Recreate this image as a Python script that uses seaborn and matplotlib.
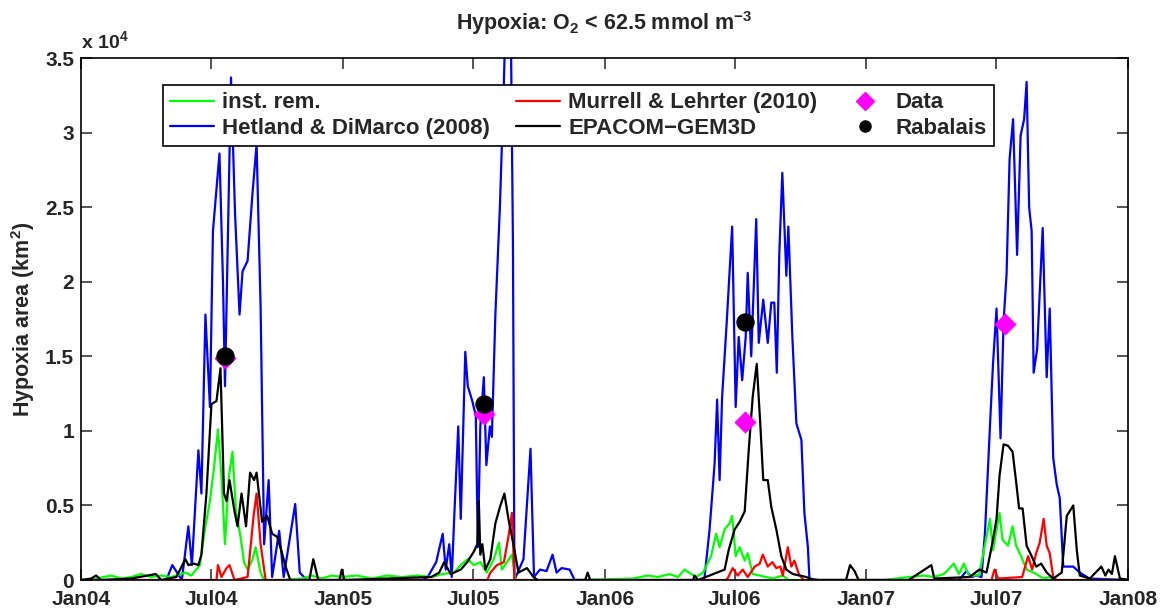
import numpy as np
import pandas as pd
import matplotlib
matplotlib.use('Agg')
import matplotlib.pyplot as plt
import matplotlib.dates as mdates
from matplotlib.ticker import FuncFormatter
from matplotlib.lines import Line2D
import seaborn as sns

START = pd.Timestamp('2004-01-01')

# ---- data: time in weeks since 2004-01-01, area in 10^3 km^2 ----
green_wk = [0, 3, 6, 8, 10, 12, 14, 16, 18, 20.8, 22, 23.7, 24.7, 25.7, 26.5, 27.3, 28, 28.7, 29.5, 30.2,
            30.9, 31.8, 32.5, 33.2, 34.2, 34.8, 35.8, 36.5, 40, 44, 46, 48, 50, 52, 55, 58, 61, 64, 67, 70,
            72, 74.4, 75.7, 77.1, 78.3, 79.6, 80.9, 82.3, 83.3, 83.9, 84.9, 85.9, 86.6, 100, 110, 113, 115,
            117.3, 119, 120.3, 122.6, 124, 125.6, 126.6, 127.3, 128.3, 129.3, 129.8, 130.5, 131.3, 132.3,
            132.9, 133.9, 135.3, 137.9, 139.9, 141, 160, 165, 168, 170, 172, 174, 175, 176, 177, 179, 181.2,
            181.8, 183.1, 183.7, 184.8, 185.7, 186.4, 187.4, 188.5, 189.9, 191.9, 193.1, 194, 209]
green_val = [0, 0.1, 0.3, 0.1, 0.2, 0.4, 0.2, 0.3, 0.2, 0.5, 0.3, 1.0, 3.4, 5.3, 7.5, 10.1, 7.0, 2.4, 7.0, 8.6,
             4.6, 2.9, 1.2, 0.7, 1.4, 2.2, 0.5, 0, 0, 0.1, 0.3, 0.1, 0.3, 0.2, 0.3, 0.1, 0.3, 0.2, 0.3, 0.2,
             0.4, 0.5, 1.0, 1.4, 1.0, 1.2, 0.5, 1.4, 2.5, 0.7, 1.2, 1.7, 0, 0, 0.1, 0.3, 0.2,
             0.4, 0.2, 0.7, 0.2, 0.5, 1.6, 3.1, 2.2, 3.4, 3.8, 4.3, 1.6, 2.2, 1.3,
             1.8, 0.4, 0.3, 0.1, 0.3, 0, 0, 0.2, 0.3, 0.2, 0.4, 1.1, 0.4, 1.1, 0.3, 0.3, 4.1,
             2.0, 4.5, 2.7, 2.3, 3.6, 2.3, 1.6, 0.7, 0.5, 0.1, 0.2, 0, 0]

blue_wk = [0, 17, 18.2, 20.1, 21.4, 22.1, 23.4, 24, 24.8, 25.7, 26.3, 27.6, 28.3, 28.7, 29.9, 30.7, 31.6,
           32.2, 33.2, 34.2, 35, 35.8, 36.5, 37.4, 38.1, 39.5, 40.4, 42.7, 43.6, 45, 68, 69.1, 70.8, 72.1,
           72.7, 73.4, 73.9, 74.5, 75.2, 75.7, 76.6, 77.1, 78, 78.7, 79.1, 79.6, 80.3, 80.8, 81.5, 81.9,
           82.6, 83.5, 84.3, 84.8, 85.6, 86.1, 86.4, 88.2, 89.6, 90.3, 91.5, 92.8, 94, 94.8, 95.8, 97.4,
           98.4, 124, 124.3, 125.3, 126.3, 126.8, 127.3, 127.8, 128.7, 129.8, 130.5, 131.1, 131.8, 132.5,
           132.9, 133.6, 134.6, 135.1, 136, 136.9, 137.6, 138.2, 138.7, 139.2, 139.8, 140.6, 141, 141.8,
           142.6, 143.6, 144.2, 144.9, 145.2, 147, 175, 176.5, 177.5, 178.5, 179.5, 180.2, 181.3, 181.8,
           182.5, 183.3, 183.9, 184.5, 185.1, 185.8, 186.6, 187.3, 188, 188.5, 189, 189.5, 189.9, 190.6,
           191.7, 192.5, 193.1, 193.8, 194.5, 195.1, 195.8, 197.8, 199.1, 201, 209]
blue_val = [0, 0, 1.0, 0.0, 3.6, 1.0, 8.7, 5.8, 17.8, 11.6, 23.4, 28.6, 20.0, 13.0, 33.7, 24.6, 17.8,
            20.7, 21.4, 26.0, 29.2, 18.3, 2.4, 6.7, 0.2, 3.3, 0.2, 5.1, 0.5, 0, 0, 0.2, 1.2, 3.1,
            0.7, 2.4, 0.2, 5.0, 10.3, 4.1, 15.3, 13.0, 12.0, 11.0, 2.2, 10.3, 13.6, 7.7, 10.3, 9.6,
            17.8, 25.0, 33.4, 40.0, 40.0, 22.6, 0, 1.4, 8.8, 0.2, 0.7, 0.6, 1.7, 0.5, 0.8, 0.7,
            0, 0, 0.2, 3.4, 7.8, 12.1, 6.7, 12.3, 17.2, 23.7, 11.6, 16.3, 13.4, 16.3,
            20.6, 15.0, 24.2, 15.9, 18.8, 15.9, 18.6, 18.6, 13.9, 21.9, 27.3, 20.4, 23.7, 16.3,
            10.5, 9.4, 4.5, 2.2, 0.1, 0, 0, 0.6, 0.2, 0.3, 0.2, 3.2, 11.1, 14.5,
            18.2, 9.5, 17.3, 20.5, 28.2, 30.9, 21.8, 29.8, 30.9, 33.4, 25.0, 23.4, 13.9, 15.5,
            23.6, 13.6, 18.2, 8.2, 6.4, 5.5, 0.9, 0.9, 0.5, 0.1, 0]

red_wk = [0, 27, 27.3, 28, 29, 29.6, 30.6, 33.2, 33.8, 34.4, 35, 35.8, 36.8, 81, 81.6, 82.9, 84.3, 85.2,
          85.9, 86.4, 128.5, 128.9, 129.9, 130.9, 131.9, 132.9, 134.3, 135.3, 135.9, 136.9, 137.8, 138.6,
          139.4, 139.9, 140.9, 141.6, 142.2, 143.1, 144, 181.5, 182.1, 182.8, 187.6, 188.8, 189.6, 190.4,
          191.1, 191.9, 192.5, 193.1, 193.8, 194.5, 209]
red_val = [0, 0, 1.0, 0.2, 0.8, 1.0, 0, 0.2, 2.2, 4.3, 5.8, 2.4, 0, 0, 0.5, 1.0, 1.2, 2.9,
           4.5, 0, 0, 0.1, 0.8, 0.3, 0.7, 0.2, 0.9, 1.1, 1.7, 0.9, 1.2, 0.8,
           0.9, 0.3, 2.2, 0.9, 1.3, 0.4, 0, 0, 0.7, 0.1, 0.2, 1.6, 0.7, 1.8,
           2.5, 4.1, 2.3, 1.8, 0.2, 0, 0]

black_wk = [0, 2, 3, 4, 10, 14.9, 16, 19, 20.8, 21.4, 22.5, 23.4, 24, 25, 26, 27, 27.8, 28.5, 29, 29.6,
            30.6, 31.2, 32, 32.9, 33.7, 34.5, 35, 36.1, 37.1, 38.1, 39.1, 40, 40.7, 41.7, 45.5, 46.3, 47.3,
            51.5, 52, 52.5, 69.8, 71.4, 72.4, 73.7, 75.7, 77, 78.3, 79, 79.3, 79.6, 80, 80.6, 81.6, 82.6,
            83.6, 84.4, 85.2, 86.2, 87.2, 88.9, 90.2, 91, 100.5, 101, 101.5, 122, 122.3, 123, 128.3, 129.1,
            130.3, 131.3, 132.3, 133.1, 133.9, 134.7, 135.4, 136, 136.9, 137.6, 138.6, 139.6, 140.6, 141.9,
            144.6, 146, 152.5, 153.3, 154.2, 155, 165, 169.5, 170.1, 177.1, 179.1, 180.5, 181.8, 182.5, 183.1,
            183.9, 184.8, 185.7, 186.4, 187, 187.7, 188.5, 189.5, 190.4, 191.4, 192.5, 193.8, 195.5, 196.5,
            197.8, 198.5, 199.1, 201.1, 203.4, 204.2, 204.8, 205.5, 206.1, 207.1, 209]
black_val = [0, 0.1, 0.3, 0, 0.1, 0.4, 0, 0.2, 1.4, 1.0, 1.1, 1.0, 1.7, 5.8, 11.8, 12.0, 14.2, 5.8, 5.3, 6.7,
             4.6, 3.6, 5.8, 3.6, 7.2, 6.7, 7.2, 3.9, 4.3, 3.1, 2.9, 1.9, 1.0, 0, 0, 1.4, 0,
             0, 0.7, 0, 0.2, 0.5, 1.2, 0.4, 0.7, 1.2, 1.9, 2.4, 5.3, 1.7, 2.4, 0.7, 1.4, 3.8,
             5.0, 5.8, 4.1, 2.4, 0.5, 0.8, 0.2, 0, 0, 0.5, 0, 0, 0.3, 0, 0.7, 2.0,
             3.4, 3.9, 4.6, 8.7, 12.3, 14.5, 10.5, 6.7, 6.7, 4.9, 3.4, 1.6, 0.7, 0.4,
             0.2, 0, 0, 1.0, 0.6, 0, 0, 1.0, 0.1, 0.2, 0.7, 0.5, 2.7, 4.1, 7.0,
             9.1, 9.0, 8.6, 6.6, 4.8, 4.8, 2.3, 1.6, 0.9, 1.1, 0.5, 0.1, 0.5, 4.3,
             5.0, 2.0, 0.3, 0.1, 0.9, 0.3, 0.7, 0.4, 1.6, 0.1, 0]

data_dates = ['2004-07-20', '2005-07-17', '2006-07-15', '2007-07-14']
data_val = [14.9, 11.1, 10.6, 17.2]
rabalais_dates = ['2004-07-20', '2005-07-17', '2006-07-15']
rabalais_val = [15.0, 11.8, 17.3]


def to_series(wk, val):
    t = START + pd.to_timedelta(np.array(wk, dtype=float) * 7, unit='D')
    return pd.DataFrame({'date': t, 'area': np.array(val, dtype=float) * 1000})


sns.set_theme(style='ticks')
plt.rcParams['font.family'] = ['Liberation Sans', 'DejaVu Sans']
plt.rcParams['font.weight'] = 'bold'
plt.rcParams['mathtext.default'] = 'regular'

fig = plt.figure(figsize=(11.64, 6.11), dpi=100)
fig.patch.set_facecolor('white')
ax = fig.add_axes([0.0696, 0.0507, 0.8995, 0.8543])
ax.set_facecolor('white')

lw = 1.6
series = [
    (blue_wk, blue_val, '#0000ff', 'Hetland & DiMarco (2008)'),
    (green_wk, green_val, '#00ff00', 'inst. rem.'),
    (red_wk, red_val, '#ff0000', 'Murrell & Lehrter (2010)'),
    (black_wk, black_val, '#000000', 'EPACOM\u2212GEM3D'),
]
for wk, val, col, lab in series:
    df = to_series(wk, val)
    sns.lineplot(data=df, x='date', y='area', color=col, lw=lw, ax=ax, label=lab)

ddf = pd.DataFrame({'date': pd.to_datetime(data_dates), 'area': np.array(data_val) * 1000})
rdf = pd.DataFrame({'date': pd.to_datetime(rabalais_dates), 'area': np.array(rabalais_val) * 1000})
sns.scatterplot(data=ddf, x='date', y='area', marker='D', color='#ff00ff', edgecolor='#ff00ff',
                s=110, ax=ax, zorder=5, label='Data')
sns.scatterplot(data=rdf, x='date', y='area', marker='o', color='black', edgecolor='black',
                s=150, ax=ax, zorder=6, label='Rabalais')

ax.set_xlim(pd.Timestamp('2004-01-01'), pd.Timestamp('2008-01-01'))
ax.set_ylim(0, 35000)
ax.set_xticks(pd.date_range('2004-01-01', '2008-01-01', freq='6MS'))
ax.xaxis.set_major_formatter(mdates.DateFormatter('%b%y'))
ax.set_yticks(np.arange(0, 35001, 5000))
ax.yaxis.set_major_formatter(FuncFormatter(lambda v, p: f'{v / 1e4:g}'))
ax.tick_params(direction='in', length=8, width=1.1, top=True, right=True, labelsize=15)
ax.tick_params(axis='x', pad=7)
ax.tick_params(axis='y', pad=5)
for s in ax.spines.values():
    s.set_linewidth(1.2)
    s.set_color('black')
    s.set_visible(True)
ax.set_xlabel('')
ax.set_ylabel('Hypoxia area (km$^2$)', fontsize=15.5, fontweight='bold', labelpad=6)
ax.set_title('Hypoxia: O$_2$ < 62.5 mmol m$^{-3}$', fontsize=15.5, fontweight='bold', pad=20)
ax.text(0.0, 1.012, r'x 10$^4$', transform=ax.transAxes, fontsize=14, fontweight='bold',
        ha='left', va='bottom')

handles = [
    Line2D([], [], color='#00ff00', lw=lw),
    Line2D([], [], color='#0000ff', lw=lw),
    Line2D([], [], color='#ff0000', lw=lw),
    Line2D([], [], color='#000000', lw=lw),
    Line2D([], [], ls='none', marker='D', color='#ff00ff', ms=9),
    Line2D([], [], ls='none', marker='o', color='black', ms=8),
]
labels = ['inst. rem.', 'Hetland & DiMarco (2008)', 'Murrell & Lehrter (2010)',
          'EPACOM\u2212GEM3D', 'Data', 'Rabalais']
leg = ax.legend(handles, labels, ncol=3, loc='upper left', bbox_to_anchor=(0.078, 0.948),
                frameon=True, fancybox=False, framealpha=1, edgecolor='black', fontsize=16,
                handlelength=2.0, handletextpad=0.36, columnspacing=1.15, labelspacing=0.22,
                borderpad=0.32, borderaxespad=0)
leg.get_frame().set_linewidth(1.2)
leg.set_zorder(10)

fig.savefig('out.png', dpi=100, facecolor='white')
